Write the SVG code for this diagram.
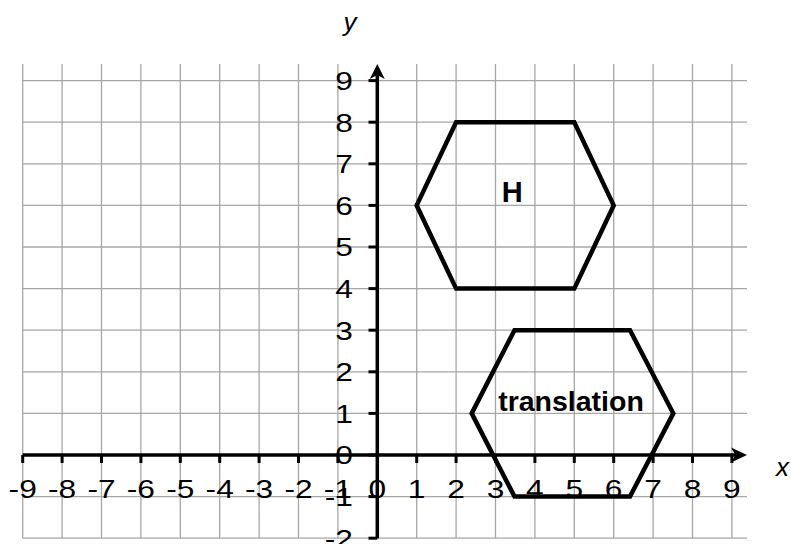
<svg xmlns="http://www.w3.org/2000/svg" width="791" height="544" viewBox="0 0 791 544">
<style>
.grid line{stroke:#a6a6a6;stroke-width:1.3}
.axis{stroke:#000;stroke-width:3.5;fill:none}
.tick{stroke:#000;stroke-width:3}
.arrow{fill:#000;stroke:none}
.hex{fill:none;stroke:#000;stroke-width:4.5;stroke-linejoin:miter}
.num text{font-family:"Liberation Sans",Arial,sans-serif;font-size:26px;fill:#000;transform-box:fill-box}
.xn text{text-anchor:middle;transform-origin:center;transform:scaleX(1.22)}
.yn text{text-anchor:end;transform-origin:right center;transform:scaleX(1.22)}
.ax{font-family:"Liberation Sans",Arial,sans-serif;font-size:26px;font-style:italic;fill:#000}
.lbl{font-family:"Liberation Sans",Arial,sans-serif;font-weight:bold;fill:#000;text-anchor:middle}
</style>
<rect width="791" height="544" fill="#fff"/>
<g class="grid">
<line x1="22.7" y1="64" x2="22.7" y2="538.2"/>
<line x1="62.1" y1="64" x2="62.1" y2="538.2"/>
<line x1="101.5" y1="64" x2="101.5" y2="538.2"/>
<line x1="140.9" y1="64" x2="140.9" y2="538.2"/>
<line x1="180.3" y1="64" x2="180.3" y2="538.2"/>
<line x1="219.7" y1="64" x2="219.7" y2="538.2"/>
<line x1="259.1" y1="64" x2="259.1" y2="538.2"/>
<line x1="298.5" y1="64" x2="298.5" y2="538.2"/>
<line x1="337.9" y1="64" x2="337.9" y2="538.2"/>
<line x1="416.7" y1="64" x2="416.7" y2="538.2"/>
<line x1="456.1" y1="64" x2="456.1" y2="538.2"/>
<line x1="495.5" y1="64" x2="495.5" y2="538.2"/>
<line x1="534.9" y1="64" x2="534.9" y2="538.2"/>
<line x1="574.3" y1="64" x2="574.3" y2="538.2"/>
<line x1="613.7" y1="64" x2="613.7" y2="538.2"/>
<line x1="653.1" y1="64" x2="653.1" y2="538.2"/>
<line x1="692.5" y1="64" x2="692.5" y2="538.2"/>
<line x1="731.9" y1="64" x2="731.9" y2="538.2"/>
<line x1="22.7" y1="80.6" x2="747" y2="80.6"/>
<line x1="22.7" y1="122.2" x2="747" y2="122.2"/>
<line x1="22.7" y1="163.8" x2="747" y2="163.8"/>
<line x1="22.7" y1="205.4" x2="747" y2="205.4"/>
<line x1="22.7" y1="247" x2="747" y2="247"/>
<line x1="22.7" y1="288.6" x2="747" y2="288.6"/>
<line x1="22.7" y1="330.2" x2="747" y2="330.2"/>
<line x1="22.7" y1="371.8" x2="747" y2="371.8"/>
<line x1="22.7" y1="413.4" x2="747" y2="413.4"/>
<line x1="22.7" y1="496.6" x2="747" y2="496.6"/>
<line x1="22.7" y1="538.2" x2="747" y2="538.2"/>
</g>
<g id="axes">
<line class="axis" x1="22.7" y1="455" x2="737" y2="455"/>
<line class="axis" x1="377.3" y1="538.2" x2="377.3" y2="74"/>
<polygon class="arrow" points="747,455 731,447.5 735.5,455 731,462.5"/>
<polygon class="arrow" points="377.3,64 384.8,79 377.3,75 369.8,79"/>
<g class="tick">
<line x1="22.7" y1="455" x2="22.7" y2="463"/>
<line x1="62.1" y1="455" x2="62.1" y2="463"/>
<line x1="101.5" y1="455" x2="101.5" y2="463"/>
<line x1="140.9" y1="455" x2="140.9" y2="463"/>
<line x1="180.3" y1="455" x2="180.3" y2="463"/>
<line x1="219.7" y1="455" x2="219.7" y2="463"/>
<line x1="259.1" y1="455" x2="259.1" y2="463"/>
<line x1="298.5" y1="455" x2="298.5" y2="463"/>
<line x1="337.9" y1="455" x2="337.9" y2="463"/>
<line x1="416.7" y1="455" x2="416.7" y2="463"/>
<line x1="456.1" y1="455" x2="456.1" y2="463"/>
<line x1="495.5" y1="455" x2="495.5" y2="463"/>
<line x1="534.9" y1="455" x2="534.9" y2="463"/>
<line x1="574.3" y1="455" x2="574.3" y2="463"/>
<line x1="613.7" y1="455" x2="613.7" y2="463"/>
<line x1="653.1" y1="455" x2="653.1" y2="463"/>
<line x1="692.5" y1="455" x2="692.5" y2="463"/>
<line x1="731.9" y1="455" x2="731.9" y2="463"/>
<line x1="368.5" y1="80.6" x2="377.3" y2="80.6"/>
<line x1="368.5" y1="122.2" x2="377.3" y2="122.2"/>
<line x1="368.5" y1="163.8" x2="377.3" y2="163.8"/>
<line x1="368.5" y1="205.4" x2="377.3" y2="205.4"/>
<line x1="368.5" y1="247" x2="377.3" y2="247"/>
<line x1="368.5" y1="288.6" x2="377.3" y2="288.6"/>
<line x1="368.5" y1="330.2" x2="377.3" y2="330.2"/>
<line x1="368.5" y1="371.8" x2="377.3" y2="371.8"/>
<line x1="368.5" y1="413.4" x2="377.3" y2="413.4"/>
<line x1="368.5" y1="455" x2="377.3" y2="455"/>
<line x1="368.5" y1="496.6" x2="377.3" y2="496.6"/>
<line x1="368.5" y1="538.2" x2="377.3" y2="538.2"/>
</g>
<g class="num xn">
<text x="22.7" y="498.3">-9</text>
<text x="62.1" y="498.3">-8</text>
<text x="101.5" y="498.3">-7</text>
<text x="140.9" y="498.3">-6</text>
<text x="180.3" y="498.3">-5</text>
<text x="219.7" y="498.3">-4</text>
<text x="259.1" y="498.3">-3</text>
<text x="298.5" y="498.3">-2</text>
<text x="337.9" y="498.3">-1</text>
<text x="377.3" y="498.3">0</text>
<text x="416.7" y="498.3">1</text>
<text x="456.1" y="498.3">2</text>
<text x="495.5" y="498.3">3</text>
<text x="534.9" y="498.3">4</text>
<text x="574.3" y="498.3">5</text>
<text x="613.7" y="498.3">6</text>
<text x="653.1" y="498.3">7</text>
<text x="692.5" y="498.3">8</text>
<text x="731.9" y="498.3">9</text>
</g>
<g class="num yn">
<text x="353" y="90">9</text>
<text x="353" y="131.6">8</text>
<text x="353" y="173.2">7</text>
<text x="353" y="214.8">6</text>
<text x="353" y="256.4">5</text>
<text x="353" y="298">4</text>
<text x="353" y="339.6">3</text>
<text x="353" y="381.2">2</text>
<text x="353" y="422.8">1</text>
<text x="353" y="464.4">0</text>
<text x="353" y="506">-1</text>
<text x="353" y="547.6">-2</text>
</g>
<text class="ax" x="350" y="30.5" text-anchor="middle">y</text>
<text class="ax" x="776" y="476">x</text>
</g>
<g id="node-H">
<polygon class="hex" points="416.7,205.4 456.1,122.2 574.3,122.2 613.7,205.4 574.3,288.6 456.1,288.6"/>
<text class="lbl" x="512.2" y="202.3" font-size="29">H</text>
</g>
<g id="node-translation">
<polygon class="hex" points="471.7,413.4 514.5,330.2 630,330.2 673.3,413.4 630,496.6 514.5,496.6"/>
<text class="lbl" x="571" y="410.5" font-size="28.5">translation</text>
</g>
</svg>
